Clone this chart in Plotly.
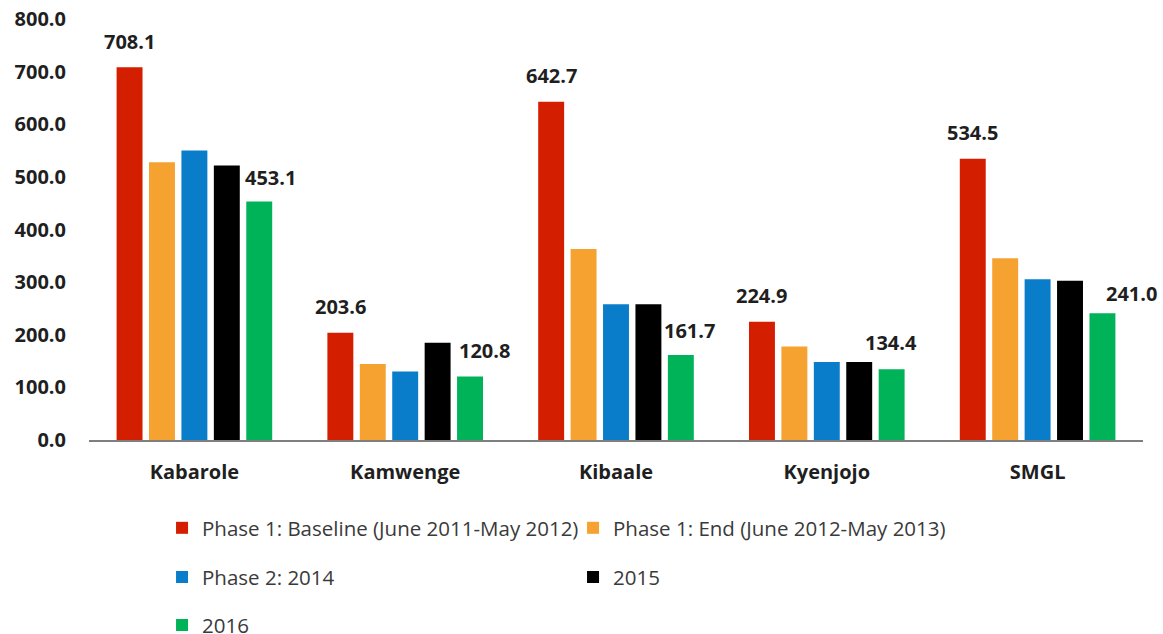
import plotly.graph_objects as go

# ---------------- data ----------------
districts = ["Kabarole", "Kamwenge", "Kibaale", "Kyenjojo", "SMGL"]
series_names = [
    "Phase 1: Baseline (June 2011-May 2012)",
    "Phase 1: End (June 2012-May 2013)",
    "Phase 2: 2014",
    "2015",
    "2016",
]
baseline_2011_12 = [708.1, 203.6, 642.7, 224.9, 534.5]
end_2012_13 = [528.0, 144.5, 363.0, 177.5, 345.6]
phase2_2014 = [550.0, 130.0, 258.0, 148.0, 305.6]
year_2015 = [521.7, 185.0, 258.0, 148.0, 302.4]
year_2016 = [453.1, 120.8, 161.7, 134.4, 241.0]
y_ticks = [0, 100, 200, 300, 400, 500, 600, 700, 800]

# ---------------- style ----------------
colors = ["#D41E00", "#F6A230", "#0A7DCA", "#000000", "#00B358"]
legend_ids = ["legend", "legend", "legend2", "legend2", "legend3"]
FONT = "Open Sans"
BARGAP = 0.231
GROUPGAP = 0.2
# manual label offsets (px) for the 2016 labels, as in the original
green_dx = [11, 14, 9, -1, 29]
green_dy = [24, 26, 24, 27, 20]

all_series = [baseline_2011_12, end_2012_13, phase2_2014, year_2015, year_2016]

fig = go.Figure()
for name, vals, col, lg in zip(series_names, all_series, colors, legend_ids):
    fig.add_trace(go.Bar(
        x=districts, y=vals, name=name, marker=dict(color=col, line=dict(width=0)),
        legend=lg, hoverinfo="x+y+name",
    ))

slot = (1 - BARGAP) / len(all_series)
annotations = []
for i, v in enumerate(baseline_2011_12):
    annotations.append(dict(
        x=i - 2 * slot, y=v, xref="x", yref="y", text=f"{v:.1f}", showarrow=False,
        yanchor="middle", xanchor="center", yshift=26,
        font=dict(family=FONT, size=20, color="#1f1f1f", weight="bold"),
    ))
for i, v in enumerate(year_2016):
    annotations.append(dict(
        x=i + 2 * slot, y=v, xref="x", yref="y", text=f"{v:.1f}", showarrow=False,
        yanchor="middle", xanchor="center", yshift=green_dy[i], xshift=green_dx[i],
        font=dict(family=FONT, size=20, color="#1f1f1f", weight="bold"),
    ))

leg_font = dict(family=FONT, size=20.5, color="#3a3a3a")
def leg(y):
    return dict(orientation="h", x=0.0693, xanchor="left", y=y, yanchor="middle",
                font=leg_font, entrywidth=366, entrywidthmode="pixels",
                bgcolor="rgba(0,0,0,0)", itemclick=False, itemdoubleclick=False)

fig.update_layout(
    width=1163, height=634,
    margin=dict(l=89, r=20, t=19, b=194, autoexpand=False),
    paper_bgcolor="white", plot_bgcolor="white",
    barmode="group", bargap=BARGAP, bargroupgap=GROUPGAP,
    font=dict(family=FONT, color="#1f1f1f"),
    showlegend=True,
    legend=leg(-0.209),
    legend2=leg(-0.326),
    legend3=leg(-0.44),
    annotations=annotations,
    xaxis=dict(
        type="category", showline=True, linecolor="#7f7f7f", linewidth=1.5,
        showgrid=False, zeroline=False, ticks="",
        tickfont=dict(family=FONT, size=20, color="#1f1f1f", weight="bold"),
        ticklabelstandoff=13, range=[-0.5, 4.5],
    ),
    yaxis=dict(
        range=[0, 800], tickvals=y_ticks, tickformat=".1f", showline=False,
        showgrid=False, zeroline=False, ticks="", ticklabeloverflow="allow",
        tickfont=dict(family=FONT, size=20, color="#1f1f1f", weight="bold"),
        ticklabelstandoff=22,
    ),
)

# remove the default 8px page margin so the figure fills the window exactly
fig.write_html(
    "out.html",
    config={"displayModeBar": False},
    post_script="document.body.style.margin='0';document.body.style.overflow='hidden';",
)
